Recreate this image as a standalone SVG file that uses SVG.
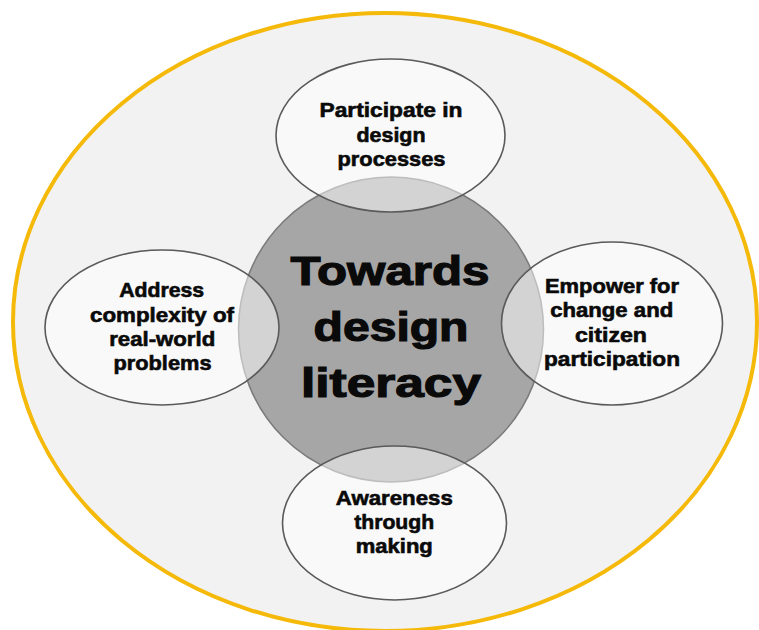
<svg xmlns="http://www.w3.org/2000/svg" width="759" height="630" viewBox="0 0 759 630">
<style>
.bg{fill:#ffffff}
.outer{fill:#f2f2f2;stroke:#f5b90a;stroke-width:4}
.core{fill:#a6a6a6;stroke:#7a7a7a;stroke-width:1.5}
.leaf{fill:#ffffff;fill-opacity:0.5;stroke:#5a5a5a;stroke-width:1.6}
text{font-family:"Liberation Sans",Arial,sans-serif;font-weight:bold;fill:#0a0a0a;stroke:#0a0a0a;text-anchor:middle}
.s{font-size:20px;stroke-width:0.6}
.b{font-size:40px;stroke-width:1.2}
</style>
<rect class="bg" x="0" y="0" width="759" height="630"/>
<g id="outer">
<ellipse class="outer" cx="385" cy="322" rx="372" ry="309"/>
</g>
<g id="center">
<circle class="core" cx="391" cy="329.5" r="152.5"/>
<text class="b" x="390" y="285" textLength="199" lengthAdjust="spacingAndGlyphs">Towards</text>
<text class="b" x="391" y="341" textLength="155" lengthAdjust="spacingAndGlyphs">design</text>
<text class="b" x="391" y="397" textLength="180" lengthAdjust="spacingAndGlyphs">literacy</text>
</g>
<g id="top">
<ellipse class="leaf" cx="390.5" cy="135.5" rx="114.5" ry="76.5"/>
<text class="s" x="391" y="117.3" textLength="143" lengthAdjust="spacingAndGlyphs">Participate in</text>
<text class="s" x="391" y="141.7" textLength="69" lengthAdjust="spacingAndGlyphs">design</text>
<text class="s" x="391.5" y="166" textLength="108" lengthAdjust="spacingAndGlyphs">processes</text>
</g>
<g id="left">
<ellipse class="leaf" cx="162" cy="327.5" rx="117" ry="77.5"/>
<text class="s" x="161.7" y="297.3" textLength="85" lengthAdjust="spacingAndGlyphs">Address</text>
<text class="s" x="162" y="321.7" textLength="144" lengthAdjust="spacingAndGlyphs">complexity of</text>
<text class="s" x="162.2" y="346" textLength="106" lengthAdjust="spacingAndGlyphs">real-world</text>
<text class="s" x="162.5" y="370" textLength="98" lengthAdjust="spacingAndGlyphs">problems</text>
</g>
<g id="right">
<ellipse class="leaf" cx="612" cy="323.5" rx="110.5" ry="81.5"/>
<text class="s" x="612" y="292.7" textLength="134" lengthAdjust="spacingAndGlyphs">Empower for</text>
<text class="s" x="611.7" y="317.3" textLength="123" lengthAdjust="spacingAndGlyphs">change and</text>
<text class="s" x="611" y="341.7" textLength="72" lengthAdjust="spacingAndGlyphs">citizen</text>
<text class="s" x="612" y="366" textLength="136" lengthAdjust="spacingAndGlyphs">participation</text>
</g>
<g id="bottom">
<ellipse class="leaf" cx="394.5" cy="523" rx="112" ry="77"/>
<text class="s" x="394.3" y="505" textLength="117" lengthAdjust="spacingAndGlyphs">Awareness</text>
<text class="s" x="394.2" y="529.3" textLength="80" lengthAdjust="spacingAndGlyphs">through</text>
<text class="s" x="394.3" y="553.3" textLength="77" lengthAdjust="spacingAndGlyphs">making</text>
</g>
</svg>
